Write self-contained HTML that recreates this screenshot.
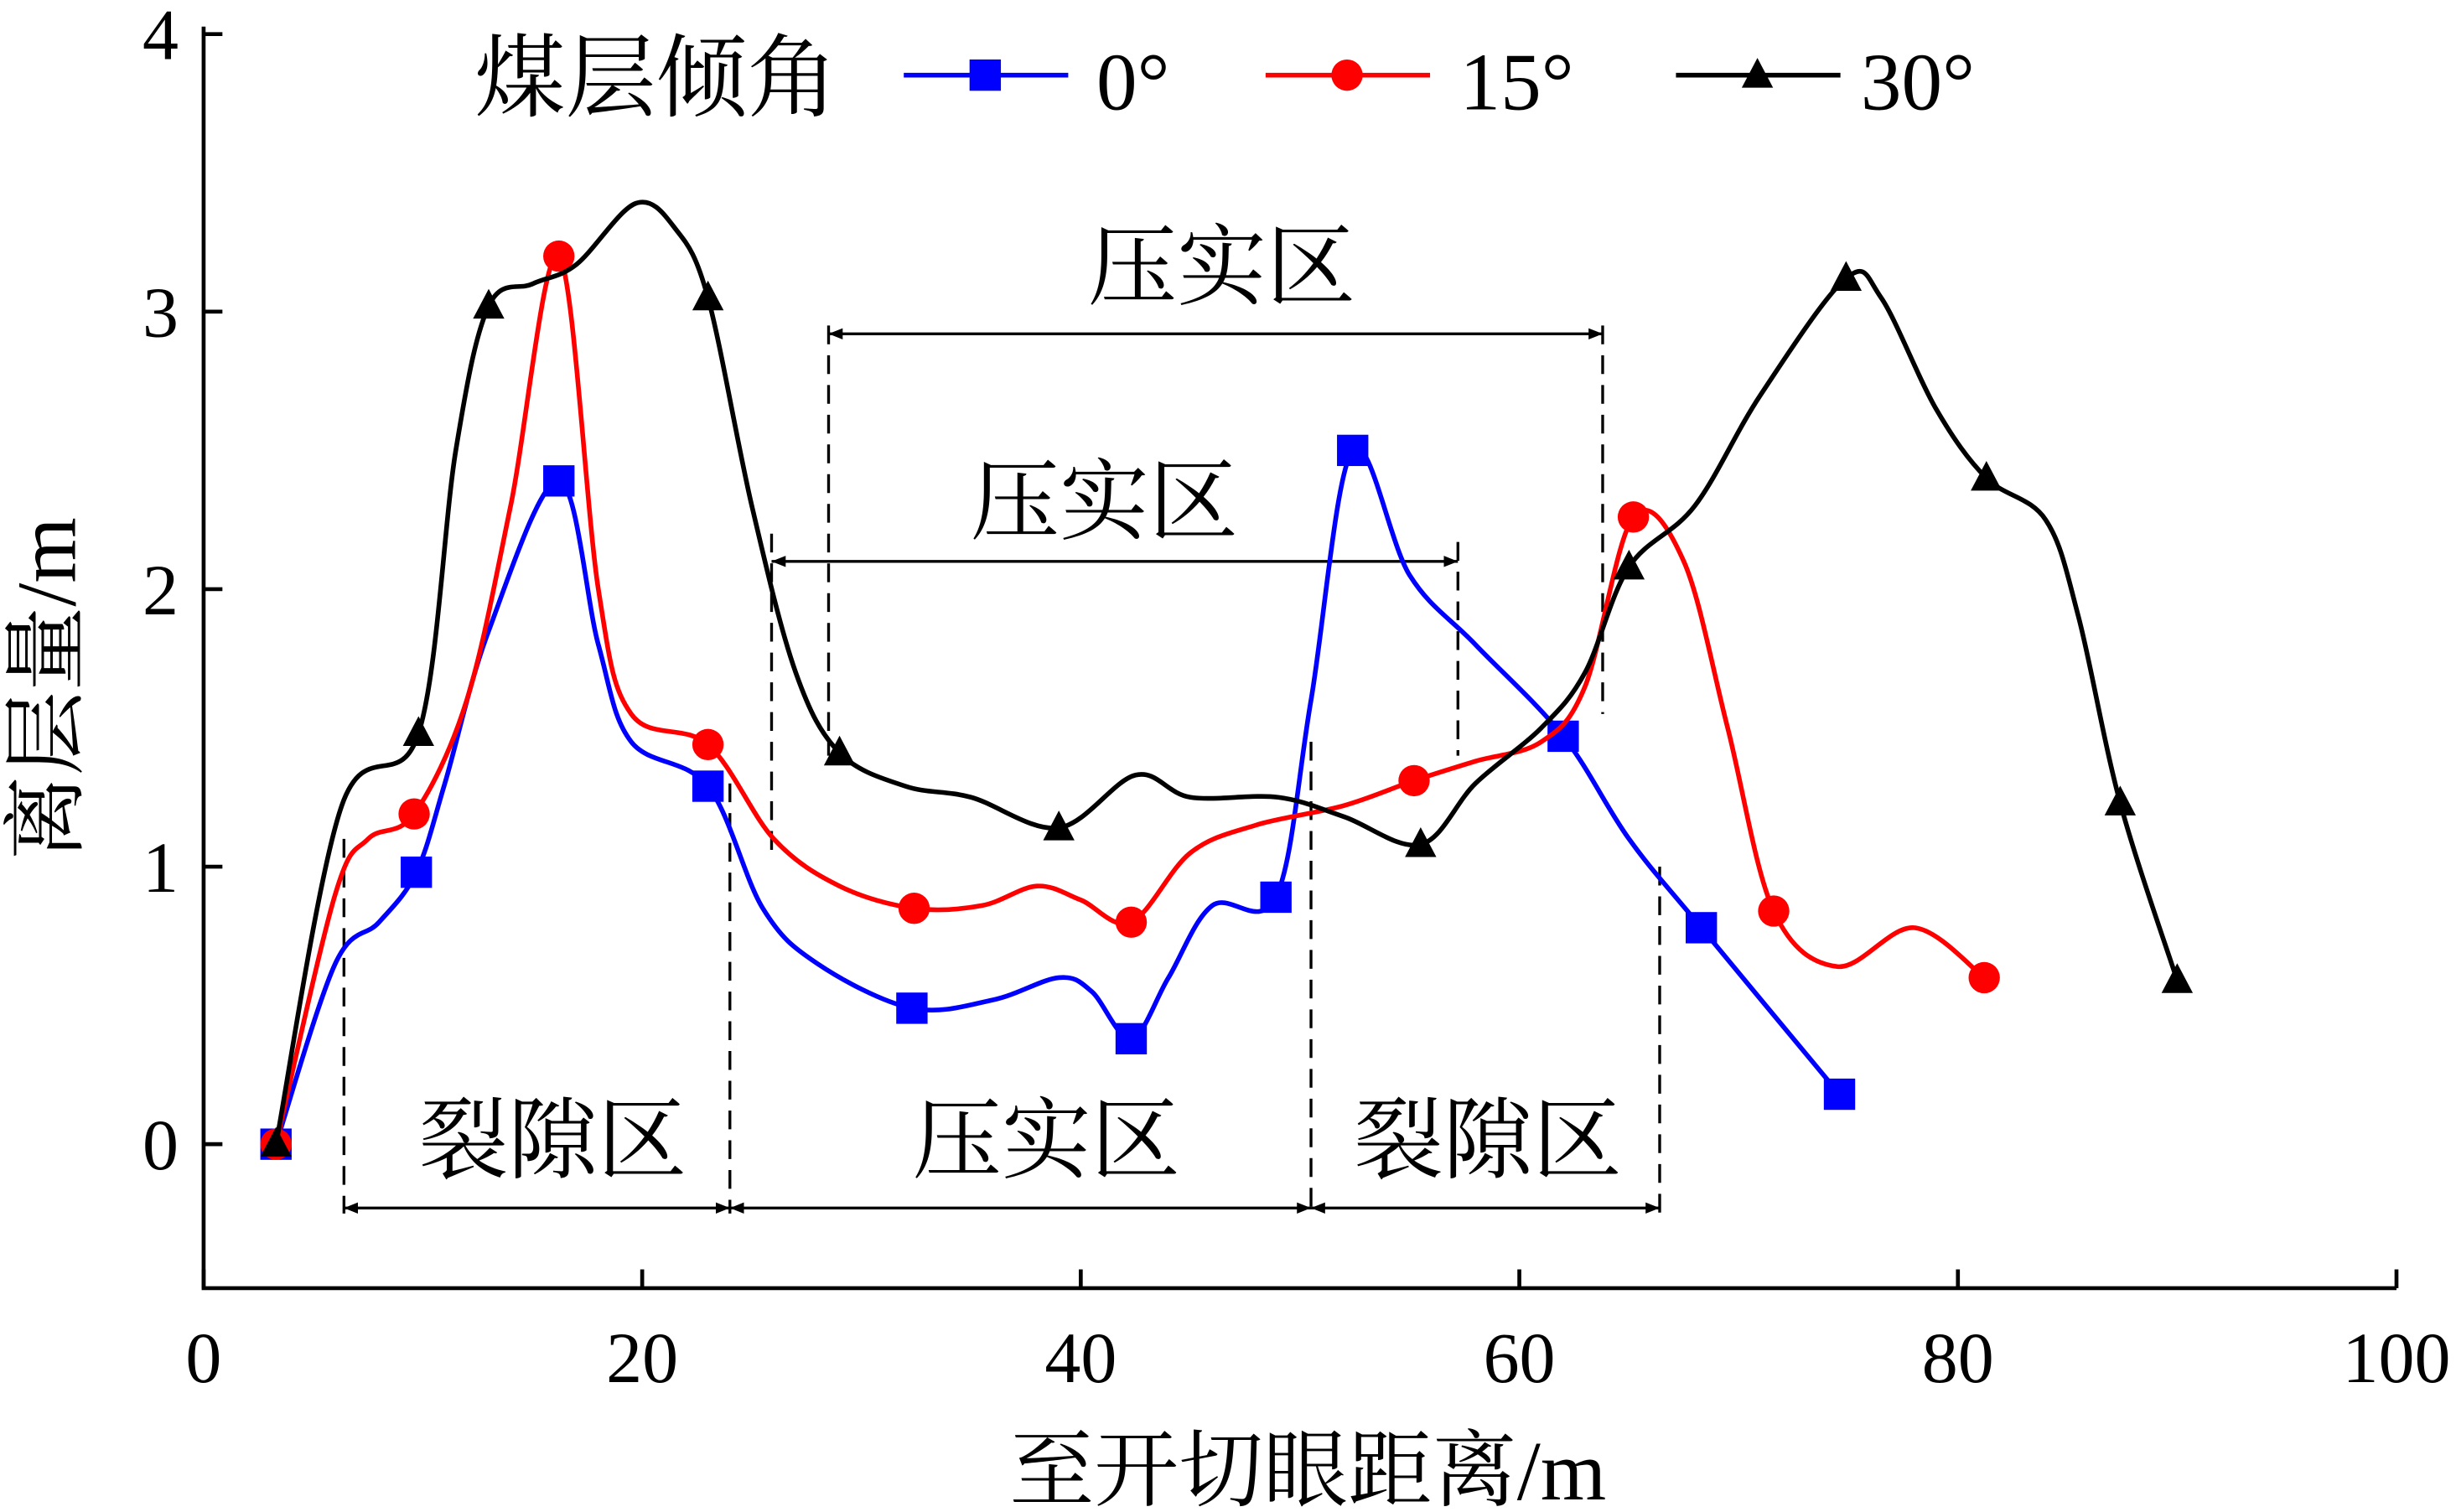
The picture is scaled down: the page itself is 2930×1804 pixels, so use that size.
<!DOCTYPE html>
<html><head><meta charset="utf-8"><style>
html,body{margin:0;padding:0;background:#fff;}
svg{display:block;}
text{font-family:"Liberation Serif","Noto Serif CJK SC",serif;}
</style></head><body>
<svg id="chart" width="2930" height="1804" viewBox="0 0 1568 966" preserveAspectRatio="none" xmlns="http://www.w3.org/2000/svg">
<defs>
<marker id="ah" viewBox="0 0 10 10" refX="10" refY="5" markerWidth="9" markerHeight="9" orient="auto-start-reverse" markerUnits="userSpaceOnUse"><path d="M0,1 L10,5 L0,9 Z" fill="#000"/></marker>
</defs>
<g id="plot"></g>
</svg>
<script>
const xTicks=[0,20,40,60,80,100];
const yTicks=[0,1,2,3,4];
const seriesNames=["0°","15°","30°"];
const blueMarkX=[3.3,9.7,16.2,23,32.3,42.3,48.9,52.4,62,68.3,74.6];
const blueMarkY=[0,0.98,2.39,1.29,0.49,0.38,0.89,2.5,1.47,0.78,0.18];
const redMarkX=[3.3,9.6,16.2,23,32.4,42.3,55.2,65.2,71.6,81.2];
const redMarkY=[0,1.19,3.2,1.44,0.85,0.8,1.31,2.26,0.84,0.6];
const blackMarkX=[3.3,9.8,13,23,29,39,55.5,65,74.9,81.3,87.4,90];
const blackMarkY=[0,1.48,3.02,3.05,1.41,1.14,1.08,2.08,3.12,2.4,1.23,0.59];
const blueCurveX=[3.3,6,8,9.7,11,13,16.2,18,19.5,23,25.5,28,32.3,36,39,40.5,42.3,44,46,48.9,50.5,52.4,55,58,62,65,68.3,74.6];
const blueCurveY=[0,0.65,0.8,0.98,1.3,1.85,2.39,1.8,1.45,1.29,0.85,0.65,0.49,0.52,0.6,0.55,0.38,0.6,0.86,0.89,1.6,2.5,2.05,1.8,1.47,1.1,0.78,0.18];
const redCurveX=[3.3,6,7.5,9.6,12,14,16.2,18,19.5,23,26,29,32.4,35.5,38,40,42.3,45,48,52,55.2,58,61,63,65.2,67.5,69.5,71.6,74.5,78,81.2];
const redCurveY=[0,0.9,1.1,1.19,1.6,2.3,3.2,2.0,1.55,1.44,1.1,0.93,0.85,0.86,0.93,0.88,0.8,1.05,1.15,1.22,1.31,1.38,1.45,1.65,2.26,2.1,1.5,0.84,0.64,0.78,0.6];
const blackCurveX=[3.3,6.3,9.8,11.5,13,15,17,19.7,21.5,23,25,27,29,32,35,39,42.5,45,49,52,55.5,58,61,63,65,68,71,74.9,76.5,79,81.3,84,85.5,87.4,90];
const blackCurveY=[0,1.22,1.48,2.5,3.02,3.1,3.17,3.39,3.3,3.05,2.3,1.7,1.41,1.29,1.25,1.14,1.33,1.25,1.25,1.18,1.08,1.3,1.5,1.7,2.08,2.3,2.7,3.12,3.05,2.65,2.4,2.25,1.9,1.23,0.59];

const X=v=>130+v*14;
const Y=v=>731-v*177.3;
const NS="http://www.w3.org/2000/svg";
const g=document.getElementById('plot');
function mk(tag,attrs,parent){const e=document.createElementNS(NS,tag);for(const k in attrs)e.setAttribute(k,attrs[k]);(parent||g).appendChild(e);return e;}
function txt(s,x,y,size,anchor){const t=mk('text',{x:x,y:y,'font-size':size,'text-anchor':anchor||'middle',fill:'#000'});t.textContent=s;return t;}
function spline(xs,ys){const p=xs.map((x,i)=>[X(x),Y(ys[i])]);let d=`M${p[0][0]},${p[0][1]}`;
 for(let i=0;i<p.length-1;i++){const p0=p[i-1]||p[i],p1=p[i],p2=p[i+1],p3=p[i+2]||p2;
  d+=` C${p1[0]+(p2[0]-p0[0])/6},${p1[1]+(p2[1]-p0[1])/6} ${p2[0]-(p3[0]-p1[0])/6},${p2[1]-(p3[1]-p1[1])/6} ${p2[0]},${p2[1]}`;}
 return d;}

const ax=mk('path',{d:`M130,17 V823 H1530`,fill:'none',stroke:'#000','stroke-width':2.5});


xTicks.forEach(v=>{const l=mk('line',{x1:X(v),x2:X(v),y1:823,y2:811,stroke:'#000','stroke-width':2.5});
 
 
 const t=txt(String(v),X(v),883,46);
 
 });
yTicks.forEach(v=>{const l=mk('line',{x1:130,x2:142,y1:Y(v),y2:Y(v),stroke:'#000','stroke-width':2.5});
 
 
 const t=txt(String(v),114,Y(v)+16,46,'end');
 
 });
const xt=txt('至开切眼距离/m',835,958,54);


const yt=txt('离层量/m',0,0,54);
yt.setAttribute('transform','translate(48,440) rotate(-90)');



function dash(x,y1,y2){const l=mk('line',{x1:X(x),x2:X(x),y1:Y(y1),y2:Y(y2),stroke:'#000','stroke-width':1.8,'stroke-dasharray':'12,7'});
 
 }
function arrow(a,b,y){const l=mk('line',{x1:X(a),x2:X(b),y1:Y(y),y2:Y(y),stroke:'#000','stroke-width':1.8,'marker-start':'url(#ah)','marker-end':'url(#ah)'});
 
 }
dash(6.4,1.1,-0.25);dash(24,1.3,-0.25);dash(50.5,1.45,-0.25);dash(66.4,1.0,-0.25);
arrow(6.4,24,-0.23);arrow(24,50.5,-0.23);arrow(50.5,66.4,-0.23);
dash(28.5,2.95,1.4);dash(63.8,2.95,1.55);arrow(28.5,63.8,2.92);
dash(25.9,2.2,1.05);dash(57.2,2.17,1.4);arrow(25.9,57.2,2.1);
[['裂隙区',353,748,'fracture-zone-label'],['压实区',668,748,'compaction-zone-label'],['裂隙区',950,748,'fracture-zone-label'],['压实区',780,190,'compaction-zone-label'],['压实区',705,340,'compaction-zone-label']].forEach(a=>{
 const t=txt(a[0],a[1],a[2],57);
 
 });

function series(cx,cy,mx,my,color,shape,name){
 const p=mk('path',{d:spline(cx,cy),fill:'none',stroke:color,'stroke-width':3});
 
 
 mx.forEach((x,i)=>{let m;const px=X(x),py=Y(my[i]);
  if(shape==='sq')m=mk('rect',{x:px-10,y:py-10,width:20,height:20,fill:color});
  else if(shape==='ci')m=mk('circle',{cx:px,cy:py,r:10,fill:color});
  else m=mk('path',{d:`M${px},${py-11} L${px+10},${py+8} L${px-10},${py+8} Z`,fill:color});
  
  });}
series(blueCurveX,blueCurveY,blueMarkX,blueMarkY,'#0000ff','sq','series-0deg');
series(redCurveX,redCurveY,redMarkX,redMarkY,'#ff0000','ci','series-15deg');
series(blackCurveX,blackCurveY,blackMarkX,blackMarkY,'#000000','tr','series-30deg');

const lt=txt('煤层倾角',303,70,58,'start');


const leg=[[577,'#0000ff','sq',700],[808,'#ff0000','ci',932],[1070,'#000000','tr',1188]];
leg.forEach((L,i)=>{const y=48;
 const l=mk('line',{x1:L[0],x2:L[0]+105,y1:y,y2:y,stroke:L[1],'stroke-width':3});
 
 
 const cx=L[0]+52;let m;
 if(L[2]==='sq')m=mk('rect',{x:cx-10,y:y-10,width:20,height:20,fill:L[1]});
 else if(L[2]==='ci')m=mk('circle',{cx:cx,cy:y,r:10,fill:L[1]});
 else m=mk('path',{d:`M${cx},${y-11} L${cx+10},${y+8} L${cx-10},${y+8} Z`,fill:L[1]});
 
 
 const t=txt(seriesNames[i],L[3],70,52,'start');
 
 });
</script>
</body></html>
